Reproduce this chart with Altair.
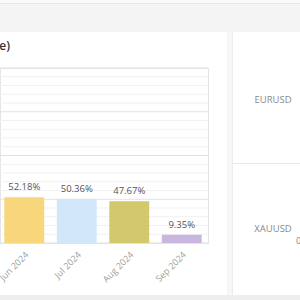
import altair as alt
import pandas as pd

months = ["Jun 2024", "Jul 2024", "Aug 2024", "Sep 2024"]
values = [52.18, 50.36, 47.67, 9.35]
labels = ["52.18%", "50.36%", "47.67%", "9.35%"]
colors = ["#f8d67c", "#d2e7fa", "#d1c96c", "#c8b6df"]
grid_values = list(range(0, 201, 10))
side_symbols = ["EURUSD", "XAUUSD"]

FONT = "Open Sans"
W, H = 208, 175
PT = 68

bars_df = pd.DataFrame({"month": months, "value": values, "label": labels, "color": colors})
grid_df = pd.DataFrame({"v": grid_values})

xscale = alt.Scale(domain=months, range=[-2, 208], paddingInner=0.24, paddingOuter=0.12)
yscale = alt.Scale(domain=[0, 200], nice=False)

one = alt.Data(values=[{"a": 1}])

def box(x, x2, y, y2, color):
    return alt.Chart(one).mark_rect(color=color).encode(
        x=alt.value(x), x2=alt.value(x2), y=alt.value(y - PT), y2=alt.value(y2 - PT)
    )

def line(x, x2, y, y2, color):
    return alt.Chart(one).mark_rule(color=color, strokeWidth=1).encode(
        x=alt.value(x), x2=alt.value(x2), y=alt.value(y - PT), y2=alt.value(y2 - PT)
    )

bg = [
    box(0, 300, 0, 32, "#f4f4f4"),
    box(0, 300, 0, 3, "#fafafa"),
    line(0, 300, 3.5, 3.5, "#e8e8e8"),
    box(227, 233, 32, 300, "#f7f7f7"),
    line(232.5, 232.5, 32, 296, "#ececec"),
    box(0, 300, 295, 300, "#eeeeee"),
    line(233, 300, 163.5, 163.5, "#e9e9e9"),
]

grid = alt.Chart(grid_df).transform_calculate(
    major="datum.v % 50 == 0 ? '#e2e2e2' : '#f1f1f1'"
).mark_rule(strokeWidth=1).encode(
    y=alt.Y("v:Q", scale=yscale, axis=None),
    x=alt.value(0), x2=alt.value(W),
    color=alt.Color("major:N", scale=None),
)

bars = alt.Chart(bars_df).mark_bar().encode(
    x=alt.X("month:N", scale=xscale, sort=months,
            axis=alt.Axis(title=None, labelAngle=-45, labelColor="#a0a0a0", labelFontSize=9,
                          labelFont=FONT, ticks=False, domain=False, grid=False, labelPadding=7)),
    y=alt.Y("value:Q", scale=yscale, axis=None),
    color=alt.Color("color:N", scale=None),
)

bar_text = alt.Chart(bars_df).mark_text(
    font=FONT, fontSize=9.5, color="#555555", baseline="bottom", dy=-5
).encode(
    x=alt.X("month:N", scale=xscale, sort=months),
    y=alt.Y("value:Q", scale=yscale),
    text="label:N",
)

title = alt.Chart(one).mark_text(
    text="e)", font=FONT, fontSize=12, fontWeight=600, color="#333333", align="right", baseline="middle"
).encode(x=alt.value(10), y=alt.value(46 - PT))

sym1 = alt.Chart(one).mark_text(
    text=side_symbols[0], font=FONT, fontSize=9.5, color="#8a8a8a", align="center", baseline="middle"
).encode(x=alt.value(273), y=alt.value(100 - PT))
sym2 = alt.Chart(one).mark_text(
    text=side_symbols[1], font=FONT, fontSize=9.5, color="#8a8a8a", align="center", baseline="middle"
).encode(x=alt.value(273), y=alt.value(229 - PT))
zero = alt.Chart(one).mark_text(
    text="0", font=FONT, fontSize=9, color="#8a8a8a", align="left", baseline="middle"
).encode(x=alt.value(296), y=alt.value(241 - PT))

chart = alt.layer(*bg, grid, bars, bar_text, title, sym1, sym2, zero).properties(
    width=W, height=H,
    padding={"left": 0, "top": PT, "right": 300 - W, "bottom": 300 - PT - H},
    autosize=alt.AutoSizeParams(type="none"),
    background="#ffffff",
).configure_view(stroke="#e4e4e4", strokeWidth=1)

chart.save("out.html", embed_options={"renderer": "svg", "actions": False})
